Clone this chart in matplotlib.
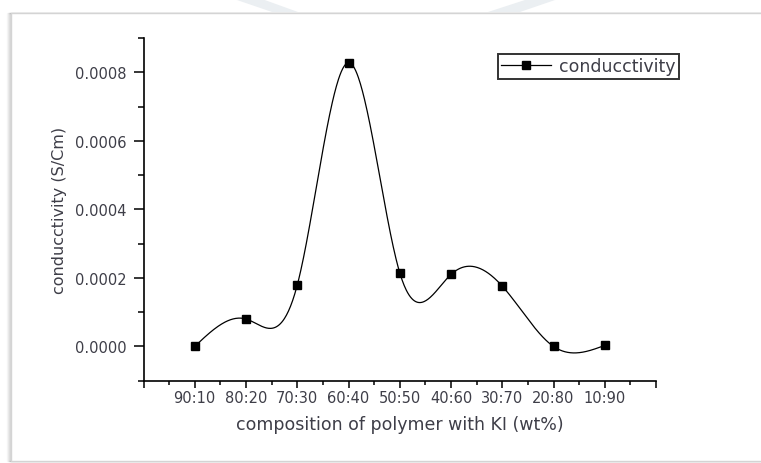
import matplotlib
matplotlib.use('Agg')
import matplotlib.pyplot as plt
import matplotlib.patches as mpatch
from matplotlib.ticker import MultipleLocator, FixedLocator, FixedFormatter
import numpy as np

# composicao polimero : KI e condutividade medida
composition = ['90:10', '80:20', '70:30', '60:40', '50:50', '40:60', '30:70', '20:80', '10:90']
conductivity = [0.0, 0.000080, 0.000179, 0.000828, 0.000215, 0.000210, 0.000176, 0.0, 0.000003]


def natural_spline(x, y, xs):
    # spline cubica natural (segunda derivada nula nas pontas)
    x = np.asarray(x, float)
    y = np.asarray(y, float)
    n = len(x)
    h = np.diff(x)
    A = np.zeros((n, n))
    b = np.zeros(n)
    A[0, 0] = 1
    A[-1, -1] = 1
    for i in range(1, n - 1):
        A[i, i - 1] = h[i - 1]
        A[i, i] = 2 * (h[i - 1] + h[i])
        A[i, i + 1] = h[i]
        b[i] = 6 * ((y[i + 1] - y[i]) / h[i] - (y[i] - y[i - 1]) / h[i - 1])
    M = np.linalg.solve(A, b)
    k = np.clip(np.searchsorted(x, xs) - 1, 0, n - 2)
    dx1 = xs - x[k]
    dx2 = x[k + 1] - xs
    hk = h[k]
    return (M[k] * dx2**3 / (6 * hk) + M[k + 1] * dx1**3 / (6 * hk)
            + (y[k] / hk - M[k] * hk / 6) * dx2
            + (y[k + 1] / hk - M[k + 1] * hk / 6) * dx1)


W, H = 761, 464
fig = plt.figure(figsize=(W / 100, H / 100), dpi=100)
fig.patch.set_facecolor('white')

# moldura cinza da pagina (atras dos eixos)
for i, a in enumerate([0.08, 0.15, 0.25, 0.35]):
    fig.add_artist(mpatch.Rectangle(((7 + i) / W, 2 / H), 0.99, (460 - 12) / H,
                                    transform=fig.transFigure, fill=False,
                                    edgecolor='#9a9a9a', alpha=a, lw=1.0, zorder=-10))
fig.add_artist(mpatch.Rectangle((11 / W, 2 / H), 0.99, (460 - 12) / H,
                                transform=fig.transFigure, facecolor='white',
                                edgecolor='#d4d4d4', lw=1.0, zorder=-9))

# marcas d'agua clarinhas no topo
fig.add_artist(mpatch.Polygon([(234 / W, 1), (262 / W, 1), (298 / W, 1 - 13 / H), (272 / W, 1 - 13 / H)],
                              closed=True, transform=fig.transFigure,
                              facecolor='#ebeff2', edgecolor='none', zorder=-11))
fig.add_artist(mpatch.Polygon([(528 / W, 1), (558 / W, 1), (520 / W, 1 - 13 / H), (488 / W, 1 - 13 / H)],
                              closed=True, transform=fig.transFigure,
                              facecolor='#ebeff2', edgecolor='none', zorder=-11))

ax = fig.add_axes([143.5 / W, 1 - 381.7 / H, (656 - 143.5) / W, (381.7 - 39) / H])
ax.set_facecolor('none')

xpos = np.arange(len(composition))
xs = np.linspace(xpos[0], xpos[-1], 600)
ys = natural_spline(xpos, conductivity, xs)

ax.plot(xs, ys, color='black', lw=0.9)
ax.plot(xpos, conductivity, 's', color='black', markersize=6.2, label='conducctivity')

ax.set_xlim(-1, 9)
ax.set_ylim(-0.0001, 0.0009)

ax.spines['top'].set_visible(False)
ax.spines['right'].set_visible(False)
ax.spines['left'].set_linewidth(1.2)
ax.spines['bottom'].set_linewidth(1.2)

ax.xaxis.set_major_locator(FixedLocator(list(range(-1, 10))))
ax.xaxis.set_major_formatter(FixedFormatter([''] + composition + ['']))
ax.xaxis.set_minor_locator(MultipleLocator(0.5))
ax.yaxis.set_major_locator(FixedLocator([0.0, 0.0002, 0.0004, 0.0006, 0.0008]))
ax.yaxis.set_minor_locator(MultipleLocator(0.0001))
ax.yaxis.set_major_formatter(plt.FuncFormatter(lambda v, p: '%.4f' % v))

txtc = '#3e3e48'
ax.tick_params(axis='both', which='major', length=7, width=1.1, labelsize=10.5,
               labelcolor=txtc, direction='out')
ax.tick_params(axis='both', which='minor', length=4, width=1.1, direction='out')
ax.tick_params(axis='x', which='major', length=5, pad=2)
ax.tick_params(axis='x', which='minor', length=3)
ax.tick_params(axis='y', which='major', pad=5)

ax.set_xlabel('composition of polymer with KI (wt%)', fontsize=12.5, color=txtc, labelpad=7)
ax.set_ylabel('conducctivity (S/Cm)', fontsize=11.5, color=txtc, labelpad=6)

# legenda com a linha e o marcador
handle = plt.Line2D([], [], color='black', lw=0.9, marker='s', markersize=6)
leg = ax.legend([handle], ['conducctivity'], loc='upper left',
                bbox_to_anchor=((497.5 - 143.5) / (656 - 143.5), (381.7 - 55) / (381.7 - 39)),
                prop={'size': 12.5}, frameon=True, fancybox=False, handlelength=2.9,
                handletextpad=0.45, borderpad=0.2, borderaxespad=0)
leg.get_frame().set_edgecolor('black')
leg.get_frame().set_linewidth(1.4)
for t in leg.get_texts():
    t.set_color(txtc)

plt.savefig('out.png', dpi=100)
